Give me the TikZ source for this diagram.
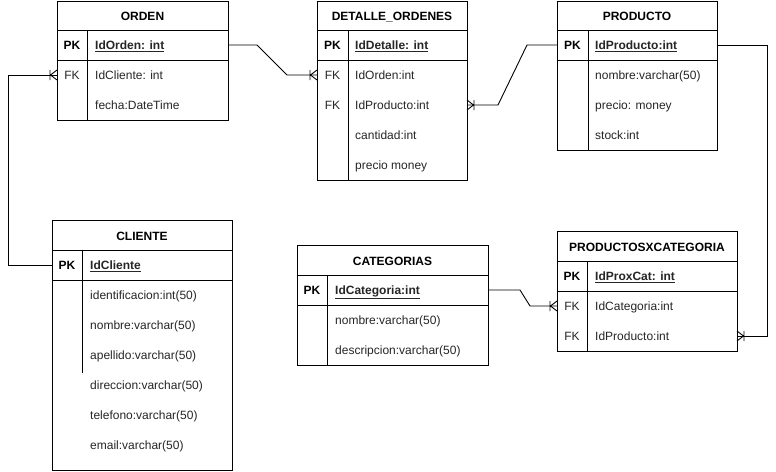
\documentclass[tikz,border=0pt]{standalone}
\usepackage{fontspec}
\setmainfont{Liberation Sans}
\begin{document}
\begin{tikzpicture}[x=1pt,y=-1pt,
  box/.style={draw=black, line width=0.9pt},
  link/.style={draw=black, line width=0.9pt},
  rowspace/.style={inner sep=0pt, outer sep=0pt, minimum height=30pt, draw=none, anchor=north west},
  title/.style={font=\fontsize{12}{14}\selectfont\bfseries, inner sep=0pt, anchor=base, yshift=-4.6pt},
  keyt/.style={font=\fontsize{12}{14}\selectfont\bfseries, inner sep=0pt, anchor=base, yshift=-4.6pt},
  fkey/.style={font=\fontsize{12}{14}\selectfont, text=black!85, inner sep=0pt, anchor=base, yshift=-4.6pt},
  txt/.style={font=\fontsize{12}{14}\selectfont, inner sep=0pt, anchor=base west, yshift=-4.6pt, text=black!85},
  crowfoot/.pic={
    \draw[line width=0.9pt] (-6.5,0) -- (0,-5) (-6.5,0) -- (0,5)
      (-7,-5) -- (-7,5);
  }
]
\useasboundingbox (0,0) rectangle (776,471);
\fill[white] (0,0) rectangle (776,471);

% ---------------- ORDEN
\draw[box] (57,1) rectangle (228,120);
\draw[box] (57,30) -- (228,30) (57,60) -- (228,60) (87,30) -- (87,120);
\node[title] (ord) at (142.5,15.5) {ORDEN};
\node[rowspace, minimum width=171pt] (ord-pk) at (57,30) {};
\node[rowspace, minimum width=171pt] (ord-fk) at (57,60) {};
\node[rowspace, minimum width=171pt] (ord-f) at (57,90) {};
\node[keyt] (ord-pk-k) at (72,45) {PK};
\node[txt] (ord-pk-t) at (95,45) {\bfseries\underline{IdOrden: int}};
\node[fkey] (ord-fk-k) at (72,75) {FK};
\node[txt] (ord-fk-t) at (95,75) {IdCliente: int};
\node[txt] (ord-f-t) at (95,105) {fecha:DateTime};

% ---------------- DETALLE_ORDENES
\draw[box] (317,1) rectangle (467,180);
\draw[box] (317,30) -- (467,30) (317,60) -- (467,60) (348,30) -- (348,180);
\node[title] (det) at (392,15.5) {DETALLE\_ORDENES};
\node[rowspace, minimum width=150pt] (det-pk) at (317,30) {};
\node[rowspace, minimum width=150pt] (det-fk1) at (317,60) {};
\node[rowspace, minimum width=150pt] (det-fk2) at (317,90) {};
\node[rowspace, minimum width=150pt] (det-c) at (317,120) {};
\node[rowspace, minimum width=150pt] (det-p) at (317,150) {};
\node[keyt] (det-pk-k) at (332.5,45) {PK};
\node[txt] (det-pk-t) at (355,45) {\bfseries\underline{IdDetalle: int}};
\node[fkey] (det-fk1-k) at (332.5,75) {FK};
\node[txt] (det-fk1-t) at (355,75) {IdOrden:int};
\node[fkey] (det-fk2-k) at (332.5,105) {FK};
\node[txt] (det-fk2-t) at (355,105) {IdProducto:int};
\node[txt] (det-c-t) at (355,135) {cantidad:int};
\node[txt] (det-p-t) at (355,165) {precio money};

% ---------------- PRODUCTO
\draw[box] (557,1) rectangle (717,150);
\draw[box] (557,30) -- (717,30) (557,60) -- (717,60) (588,30) -- (588,150);
\node[title] (prod) at (637,15.5) {PRODUCTO};
\node[rowspace, minimum width=160pt] (prod-pk) at (557,30) {};
\node[rowspace, minimum width=160pt] (prod-n) at (557,60) {};
\node[rowspace, minimum width=160pt] (prod-p) at (557,90) {};
\node[rowspace, minimum width=160pt] (prod-s) at (557,120) {};
\node[keyt] (prod-pk-k) at (572.5,45) {PK};
\node[txt] (prod-pk-t) at (595,45) {\bfseries\underline{IdProducto:int}};
\node[txt] (prod-n-t) at (595,75) {nombre:varchar(50)};
\node[txt] (prod-p-t) at (595,105) {precio: money};
\node[txt] (prod-s-t) at (595,135) {stock:int};

% ---------------- CLIENTE
\draw[box] (52,220) rectangle (232,470);
\draw[box] (52,250) -- (232,250) (52,280) -- (232,280) (82,250) -- (82,373);
\node[title] (cli) at (142,235.5) {CLIENTE};
\node[rowspace, minimum width=180pt] (cli-pk) at (52,250) {};
\node[keyt] (cli-pk-k) at (67,265) {PK};
\node[txt] (cli-pk-t) at (90,265) {\bfseries\underline{IdCliente}};
\node[txt] (cli-1) at (90,295) {identificacion:int(50)};
\node[txt] (cli-2) at (90,325) {nombre:varchar(50)};
\node[txt] (cli-3) at (90,355) {apellido:varchar(50)};
\node[txt] (cli-4) at (90,385) {direccion:varchar(50)};
\node[txt] (cli-5) at (90,415) {telefono:varchar(50)};
\node[txt] (cli-6) at (90,445) {email:varchar(50)};

% ---------------- CATEGORIAS
\draw[box] (297,245) rectangle (488,365);
\draw[box] (297,275) -- (488,275) (297,305) -- (488,305) (327,275) -- (327,365);
\node[title] (cat) at (392.5,260.5) {CATEGORIAS};
\node[rowspace, minimum width=191pt] (cat-pk) at (297,275) {};
\node[keyt] (cat-pk-k) at (312,290) {PK};
\node[txt] (cat-pk-t) at (335,290) {\bfseries\underline{IdCategoria:int}};
\node[txt] (cat-1) at (335,320) {nombre:varchar(50)};
\node[txt] (cat-2) at (335,350) {descripcion:varchar(50)};

% ---------------- PRODUCTOSXCATEGORIA
\draw[box] (557,231) rectangle (737,351);
\draw[box] (557,261) -- (737,261) (557,291) -- (737,291) (587,261) -- (587,351);
\node[title] (pxc) at (647,246.5) {PRODUCTOSXCATEGORIA};
\node[rowspace, minimum width=180pt] (pxc-pk) at (557,261) {};
\node[rowspace, minimum width=180pt] (pxc-fk1) at (557,291) {};
\node[rowspace, minimum width=180pt] (pxc-fk2) at (557,321) {};
\node[keyt] (pxc-pk-k) at (572,276) {PK};
\node[txt] (pxc-pk-t) at (595,276) {\bfseries\underline{IdProxCat: int}};
\node[fkey] (pxc-fk1-k) at (572,306) {FK};
\node[txt] (pxc-fk1-t) at (595,306) {IdCategoria:int};
\node[fkey] (pxc-fk2-k) at (572,336) {FK};
\node[txt] (pxc-fk2-t) at (595,336) {IdProducto:int};

% ---------------- relationships
\draw[link] (ord-pk.east) -- ++(29,0) -- ([xshift=-30pt]det-fk1.west) -- (det-fk1.west);
\pic at (det-fk1.west) {crowfoot};

\draw[link] (prod-pk.west) -- ++(-30,0) -- ([xshift=31pt]det-fk2.east) -- (det-fk2.east);
\pic[xscale=-1] at (det-fk2.east) {crowfoot};

\draw[link] (prod-pk.east) -- ++(50,0) |- (pxc-fk2.east);
\pic[xscale=-1] at (pxc-fk2.east) {crowfoot};

\draw[link] (cat-pk.east) -- ++(32,0) -- ([xshift=-27pt]pxc-fk1.west) -- (pxc-fk1.west);
\pic at (pxc-fk1.west) {crowfoot};

\draw[link] (cli-pk.west) -- ++(-44,0) |- (ord-fk.west);
\pic at (ord-fk.west) {crowfoot};
\end{tikzpicture}
\end{document}
